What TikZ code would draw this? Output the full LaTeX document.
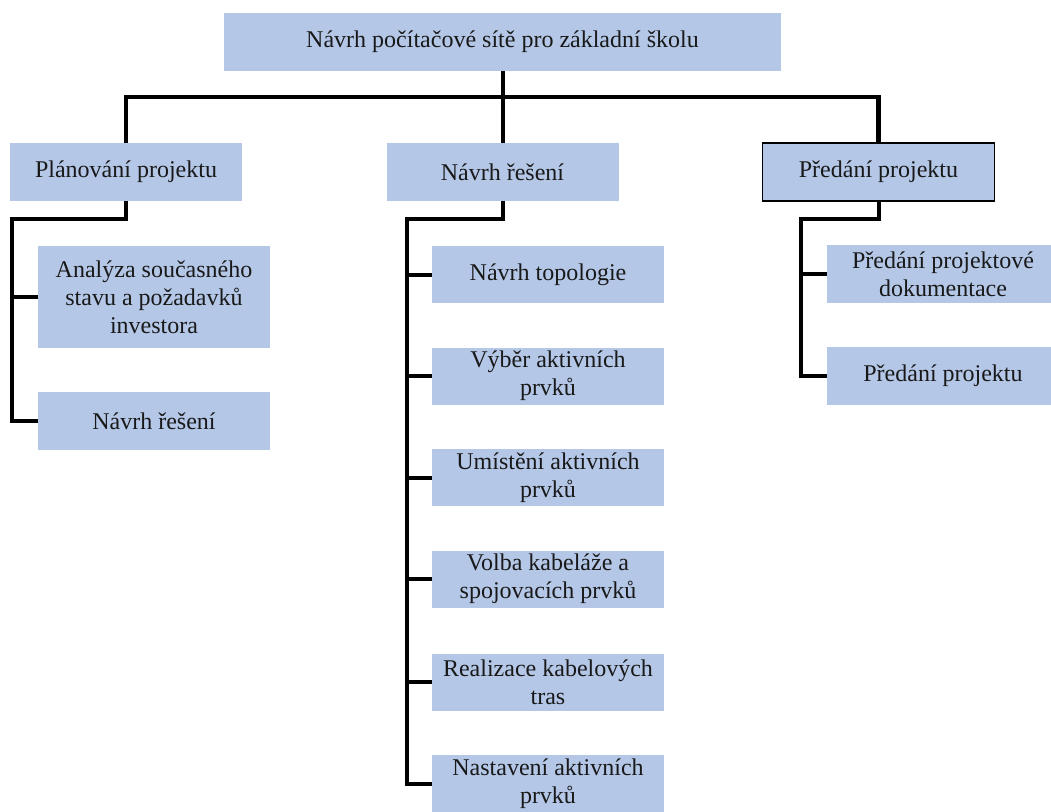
\documentclass[tikz,border=0pt]{standalone}
\usepackage{fontspec}
\setmainfont{Liberation Serif}
\definecolor{boxblue}{HTML}{B4C7E7}
\tikzset{
  wbs/.style={fill=boxblue, draw=none, align=center, inner sep=1pt,
    font=\fontsize{12}{14}\selectfont, text=black!90},
  lvl/.style={wbs, minimum width=116pt, minimum height=29pt},
  kid/.style={wbs, minimum width=116pt, minimum height=28.5pt},
  conn/.style={draw=black, line width=2pt, line join=miter},
}
\begin{document}
\begin{tikzpicture}[x=0.5pt, y=-0.5pt]
\useasboundingbox (0,0) rectangle (1051,811);
% top
\node[wbs, minimum width=278.5pt, minimum height=29pt] (top) at (502.5,42) {Návrh počítačové sítě pro základní školu};
% level 1
\node[lvl] (n0) at (126,172) {Plánování projektu};
\node[lvl] (n1) at (502.5,172) {Návrh řešení};
\node[lvl, draw=black, line width=0.6pt] (n2) at (878.5,172) {Předání projektu};
% left children
\node[kid, minimum height=51pt] (a1) at (154,297) {Analýza současného\\stavu a požadavků\\investora};
\node[kid, minimum height=29pt] (a2) at (154,421) {Návrh řešení};
% middle children
\node[kid] (b1) at (548,274.5) {Návrh topologie};
\node[kid] (b2) at (548,376) {Výběr aktivních\\prvků};
\node[kid] (b3) at (548,477.5) {Umístění aktivních\\prvků};
\node[kid] (b4) at (548,579) {Volba kabeláže a\\spojovacích prvků};
\node[kid] (b5) at (548,682) {Realizace kabelových\\tras};
\node[kid] (b6) at (548,783.5) {Nastavení aktivních\\prvků};
% right children
\node[kid, minimum height=29pt] (c1) at (943,274) {Předání projektové\\dokumentace};
\node[kid, minimum height=29pt] (c2) at (943,376) {Předání projektu};
% connectors
\coordinate (bus) at (502,97);
\coordinate (lv) at (12,219);
\coordinate (mv) at (407,219);
\coordinate (rv) at (801,219);
\draw[conn, line width=2.4pt] (n0.north) |- (bus) -| (n2.north);
\draw[conn] (top.south) -- (n1.north);
\draw[conn] (n0.south) |- (lv) |- (a2.west);
\draw[conn] (lv |- a1.west) -- (a1.west);
\draw[conn] (n1.south) |- (mv) |- (b6.west);
\foreach \b in {b1,b2,b3,b4,b5}{\draw[conn] (mv |- \b.west) -- (\b.west);}
\draw[conn] (n2.south) |- (rv) |- (c2.west);
\draw[conn] (rv |- c1.west) -- (c1.west);
\end{tikzpicture}
\end{document}
